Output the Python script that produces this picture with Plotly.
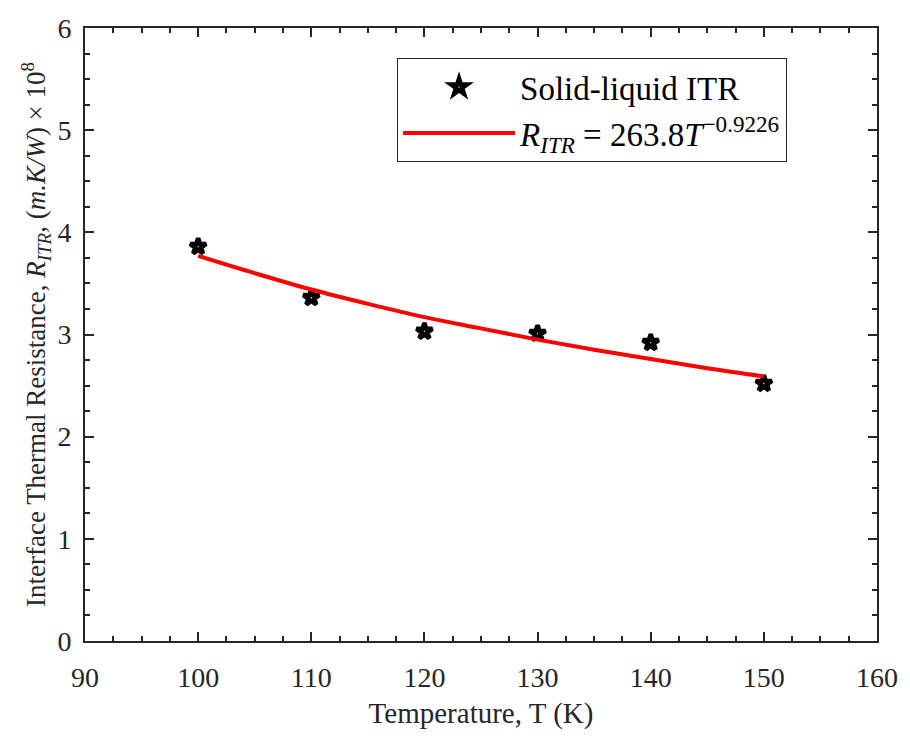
import plotly.graph_objects as go

# Data
temps = [100, 110, 120, 130, 140, 150]
itr_values = [3.86, 3.36, 3.03, 3.01, 2.92, 2.52]

fit_T = [100, 105, 110, 115, 120, 125, 130, 135, 140, 145, 150]
fit_R = [3.77, 3.60, 3.44, 3.30, 3.17, 3.06, 2.95, 2.85, 2.76, 2.67, 2.59]

x_ticks = [90, 100, 110, 120, 130, 140, 150, 160]
y_ticks = [0, 1, 2, 3, 4, 5, 6]

FONT = "Liberation Serif"
AX = "#262626"

fig = go.Figure()
fig.add_trace(go.Scatter(
    x=temps, y=itr_values, mode="markers", name="Solid-liquid ITR",
    marker=dict(symbol="star", size=12, color="white",
                line=dict(color="black", width=4.5)),
))
fig.add_trace(go.Scatter(
    x=fit_T, y=fit_R, mode="lines", line_shape="spline",
    name="<i>R</i><sub><i>ITR</i></sub> = 263.8<i>T</i><sup>−0.9226</sup>",
    line=dict(color="#FF0000", width=4),
))

axis_common = dict(
    showline=True, linewidth=2, linecolor=AX, mirror="ticks",
    ticks="inside", ticklen=9, tickwidth=2, tickcolor=AX,
    showgrid=False, zeroline=False,
    tickfont=dict(family=FONT, size=28, color=AX),
)

fig.update_xaxes(
    range=[90, 160], tickvals=x_ticks, ticklabelstandoff=10, **axis_common,
    minor=dict(dtick=2.5, ticks="inside", ticklen=5, tickwidth=2, tickcolor=AX, showgrid=False),
    title=dict(text="Temperature, T (K)", font=dict(family=FONT, size=29, color=AX), standoff=11),
)
fig.update_yaxes(
    range=[0, 6], tickvals=y_ticks, ticklabelstandoff=6, **axis_common,
    minor=dict(dtick=0.25, ticks="inside", ticklen=5, tickwidth=2, tickcolor=AX, showgrid=False),
    title=dict(text="Interface Thermal Resistance, <i>R</i><sub><i>ITR</i></sub>, (<i>m.K/W</i>) × 10<sup>8</sup>",
               font=dict(family=FONT, size=27, color=AX), standoff=4),
)

fig.update_layout(
    width=910, height=742,
    margin=dict(l=85, r=31, t=28, b=101),
    paper_bgcolor="white", plot_bgcolor="white",
    legend=dict(
        x=0.394, y=0.951, xanchor="left", yanchor="top",
        bgcolor="white", bordercolor=AX, borderwidth=1,
        font=dict(family=FONT, size=33, color="black"),
        itemwidth=112, tracegroupgap=0,
    ),
)

fig.write_html("out.html")
